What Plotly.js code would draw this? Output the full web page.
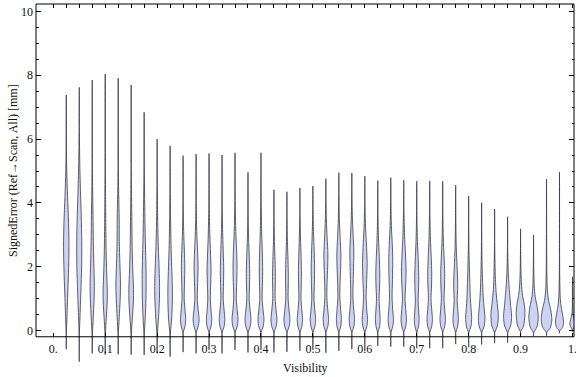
<!DOCTYPE html>
<html><head><meta charset="utf-8">
<script src="https://cdn.plot.ly/plotly-3.0.1.min.js"></script>
<style>html,body{margin:0;padding:0;background:#fff}</style>
</head><body><div id="chart" style="width:576px;height:377px"></div>
<script>
// ---- data ----
const visibility = [0.025,0.05,0.075,0.1,0.125,0.15,0.175,0.2,0.225,0.25,0.275,0.3,0.325,0.35,0.375,0.4,0.425,0.45,0.475,0.5,0.525,0.55,0.575,0.6,0.625,0.65,0.675,0.7,0.725,0.75,0.775,0.8,0.825,0.85,0.875,0.9,0.925,0.95,0.975,1.0];
const errMin = [-0.58,-0.97,-0.71,-0.75,-0.74,-0.75,-0.76,-0.71,-0.81,-0.67,-0.71,-0.60,-0.71,-0.60,-0.68,-0.60,-0.68,-0.66,-0.63,-0.60,-0.69,-0.63,-0.58,-0.63,-0.48,-0.50,-0.50,-0.55,-0.55,-0.55,-0.42,-0.52,-0.43,-0.39,-0.38,-0.10,-0.17,-0.16,-0.08,-0.03];
const errMax = [7.38,7.62,7.85,8.04,7.91,7.69,6.84,6.00,5.79,5.48,5.53,5.55,5.50,5.57,4.96,5.57,4.41,4.35,4.47,4.53,4.76,4.95,4.94,4.84,4.70,4.79,4.71,4.68,4.69,4.68,4.56,4.22,4.01,3.81,3.57,3.19,3.00,4.75,4.97,1.69];
// density profile of each violin: error levels and relative density at them
const profileLevels = [
 [-0.1,0.3,1.0,1.8,2.6,3.4,4.2,5.0,5.8],
 [-0.1,0.4,1.2,2.0,2.8,3.6,4.4,5.3,6.2],
 [-0.1,0.4,1.0,1.5,2.1,2.8,3.6,4.4,5.5],
 [-0.1,0.4,0.9,1.3,1.8,2.5,3.3,4.2,5.3],
 [-0.1,0.4,1.0,1.5,2.1,2.8,3.5,4.3,5.3],
 [-0.1,0.4,0.9,1.3,1.9,2.6,3.4,4.2,5.2],
 [-0.1,0.4,1.0,1.6,2.2,2.9,3.7,4.5,5.3],
 [-0.1,0.4,1.0,1.5,2.1,2.8,3.6,4.5],
 [-0.1,0.4,0.9,1.4,2.0,2.7,3.5,4.4],
 [-0.05,0.12,0.35,0.62,1.0,1.5,2.0,2.5,3.1,3.8],
 [-0.05,0.12,0.35,0.62,1.0,1.5,2.0,2.5,3.1,3.9],
 [-0.05,0.12,0.35,0.62,1.0,1.5,1.9,2.4,3.0,3.9],
 [-0.05,0.12,0.35,0.62,1.0,1.5,1.9,2.4,3.0,3.8],
 [-0.05,0.12,0.35,0.62,1.0,1.5,2.0,2.5,3.1,4.0],
 [-0.05,0.12,0.35,0.62,1.0,1.4,1.8,2.3,2.9,3.6],
 [-0.05,0.12,0.35,0.62,1.0,1.5,1.9,2.4,3.1,4.0],
 [-0.05,0.12,0.35,0.62,1.0,1.4,1.7,2.2,2.8,3.5],
 [-0.05,0.12,0.35,0.62,1.0,1.4,1.7,2.2,2.8,3.5],
 [-0.05,0.12,0.35,0.62,1.0,1.4,1.8,2.3,2.9,3.6],
 [-0.05,0.12,0.35,0.62,1.0,1.5,2.0,2.5,3.1,3.8],
 [-0.05,0.12,0.35,0.62,1.05,1.5,2.0,2.4,2.9,3.5,4.1],
 [-0.05,0.12,0.35,0.62,1.05,1.5,2.0,2.4,2.9,3.5,4.2],
 [-0.05,0.12,0.35,0.62,1.05,1.6,2.1,2.5,3.0,3.6,4.2],
 [-0.05,0.12,0.35,0.62,1.05,1.6,2.1,2.6,3.2,3.9],
 [-0.05,0.12,0.35,0.62,1.0,1.4,1.8,2.3,2.9,3.7],
 [-0.05,0.12,0.35,0.62,1.05,1.6,2.2,2.7,3.3,4.0],
 [-0.05,0.12,0.35,0.62,1.0,1.5,1.9,2.4,3.0,3.8],
 [-0.05,0.12,0.35,0.62,0.95,1.3,1.7,2.2,2.8,3.6],
 [-0.05,0.12,0.35,0.62,1.0,1.4,1.8,2.3,2.9,3.7],
 [-0.05,0.12,0.35,0.62,1.0,1.4,1.8,2.3,2.9,3.7],
 [-0.05,0.12,0.35,0.62,0.95,1.25,1.55,2.0,2.6,3.4],
 [-0.05,0.12,0.42,0.7,1.0,1.4,1.9,2.5,3.2],
 [-0.05,0.12,0.38,0.7,1.0,1.4,1.9,2.5,3.1],
 [-0.05,0.15,0.5,0.85,1.2,1.6,2.1,2.8],
 [-0.05,0.15,0.45,0.8,1.1,1.5,2.0,2.6],
 [-0.02,0.15,0.5,0.8,1.1,1.5,2.0,2.5],
 [-0.05,0.12,0.42,0.75,1.05,1.4,1.9,2.4],
 [-0.05,0.1,0.35,0.65,0.95,1.3,1.8,2.6,3.5],
 [0.0,0.1,0.28,0.55,0.85,1.2,1.8,2.6],
 [0.05,0.12,0.22,0.38,0.55,0.8]
];
const profileDensity = [
 [0.15,0.6,1.3,2.2,2.7,2.3,1.3,0.5,0.15],
 [0.15,0.7,1.6,2.4,2.5,2.0,1.2,0.5,0.15],
 [0.2,1.0,1.9,2.1,1.6,1.1,0.8,0.4,0.1],
 [0.2,1.1,2.0,2.1,1.5,0.9,0.6,0.35,0.1],
 [0.2,1.0,2.0,2.3,1.7,1.1,1.0,0.5,0.1],
 [0.2,1.2,2.2,2.3,1.6,1.0,0.7,0.4,0.1],
 [0.2,1.1,1.8,2.0,1.7,1.1,0.7,0.35,0.1],
 [0.25,1.4,2.3,2.4,1.8,1.0,0.5,0.2],
 [0.3,1.6,2.2,2.2,1.6,0.9,0.5,0.2],
 [0.2,1.8,2.6,2.0,1.1,1.4,1.7,1.3,0.6,0.2],
 [0.2,2.0,3.0,2.2,1.2,1.6,2.0,1.5,0.7,0.2],
 [0.2,1.9,2.7,2.0,1.3,1.7,2.0,1.5,0.8,0.25],
 [0.2,2.0,2.8,2.1,1.2,1.5,1.7,1.3,0.7,0.2],
 [0.2,2.1,3.0,2.2,1.3,1.7,2.0,1.6,0.8,0.25],
 [0.2,2.1,3.0,2.2,1.2,1.5,1.7,1.3,0.6,0.2],
 [0.2,2.1,3.0,2.2,1.2,1.5,1.7,1.4,0.7,0.25],
 [0.2,2.1,3.0,2.2,1.2,1.3,1.4,1.1,0.5,0.15],
 [0.2,2.1,3.0,2.2,1.2,1.3,1.4,1.1,0.5,0.15],
 [0.2,1.9,2.7,2.0,1.1,1.3,1.5,1.2,0.6,0.15],
 [0.2,1.9,2.7,2.0,1.1,1.5,1.7,1.3,0.6,0.2],
 [0.2,1.9,2.7,2.0,1.0,1.2,1.8,2.0,1.3,0.5,0.15],
 [0.2,1.8,2.5,1.9,1.0,1.2,1.8,2.0,1.3,0.5,0.15],
 [0.2,1.9,2.7,2.0,1.1,1.4,1.8,2.0,1.3,0.5,0.15],
 [0.2,1.9,2.7,2.0,1.3,1.9,2.3,1.8,0.8,0.2],
 [0.2,1.7,2.4,1.9,1.3,1.8,2.0,1.5,0.7,0.2],
 [0.2,1.9,2.7,2.0,1.3,1.7,2.0,1.5,0.6,0.2],
 [0.2,1.9,2.7,2.1,1.3,2.0,2.3,1.7,0.8,0.2],
 [0.2,1.7,2.4,1.9,1.4,1.8,2.0,1.5,0.7,0.2],
 [0.2,1.9,2.7,2.1,1.3,1.8,2.0,1.5,0.7,0.2],
 [0.2,1.9,2.7,2.1,1.3,1.8,2.0,1.4,0.6,0.2],
 [0.2,1.9,2.7,2.2,1.5,1.9,2.0,1.4,0.6,0.2],
 [0.2,2.2,3.0,2.4,1.7,1.3,0.8,0.35,0.1],
 [0.2,2.4,3.3,2.5,1.7,1.1,0.6,0.25,0.1],
 [0.25,2.8,3.7,2.6,1.5,0.8,0.4,0.1],
 [0.25,3.0,4.0,3.0,2.2,1.2,0.5,0.15],
 [0.3,3.0,4.3,3.8,2.0,0.8,0.3,0.1],
 [0.3,3.4,4.7,3.6,1.7,0.7,0.25,0.08],
 [0.3,3.8,5.3,4.2,2.0,0.8,0.35,0.15,0.08],
 [0.3,3.0,4.0,2.8,1.2,0.5,0.2,0.08],
 [0.4,2.0,2.7,1.6,0.5,0.15]
];
const xTickVals = [0,0.1,0.2,0.3,0.4,0.5,0.6,0.7,0.8,0.9,1.0];
const xTickText = ['0.','0.1','0.2','0.3','0.4','0.5','0.6','0.7','0.8','0.9','1.'];
const yTickVals = [0,2,4,6,8,10];
const yMinorVals = [0.5,1,1.5,2.5,3,3.5,4.5,5,5.5,6.5,7,7.5,8.5,9,9.5];
const xTitle = 'Visibility';
const yTitle = 'SignedError (Ref\u2192Scan, All) [mm]';

// ---- drawing ----
const DENS_TO_X = 0.00193;   // relative density -> half-width in x units
const FILL = 'rgb(204,211,243)';
const EDGE = 'rgba(55,55,65,0.78)';
const XR = [-0.0333, 1.0029];
const YR = [-1.105, 10.229];
const FRAME_BOTTOM = -0.19;
const framePos = (FRAME_BOTTOM - YR[0]) / (YR[1] - YR[0]);

const traces = visibility.map((v, i) => {
  const lv = [errMin[i], ...profileLevels[i], errMax[i]];
  const dn = [0, ...profileDensity[i], 0];
  const xs = [], ys = [];
  for (let k = 0; k < lv.length; k++) { xs.push(v + dn[k] * DENS_TO_X); ys.push(lv[k]); }
  for (let k = lv.length - 2; k >= 0; k--) { xs.push(v - dn[k] * DENS_TO_X); ys.push(lv[k]); }
  return {
    type: 'scatter', mode: 'lines', x: xs, y: ys, fill: 'toself', fillcolor: FILL,
    line: {color: EDGE, width: 1, shape: 'spline', smoothing: 0.8},
    hoverinfo: 'skip', showlegend: false
  };
});
traces.push({type:'scatter', mode:'markers', x:[0.5], y:[5], xaxis:'x2', yaxis:'y',
  marker:{opacity:0}, hoverinfo:'skip', showlegend:false});

const serif = '"Liberation Serif", "Times New Roman", "DejaVu Serif", serif';
const layout = {
  width: 576, height: 377,
  margin: {l: 36, r: 2, t: 4, b: 11, pad: 0},
  paper_bgcolor: '#ffffff', plot_bgcolor: 'rgba(0,0,0,0)',
  showlegend: false,
  font: {family: serif, size: 12, color: '#111'},
  xaxis: {range: XR, anchor: 'free', position: framePos, showline: false, showgrid: false,
    zeroline: false, ticks: 'inside', ticklen: 4, tickwidth: 1, tickcolor: '#000',
    ticklabelstandoff: 3, ticklabeloverflow: 'allow',
    tickmode: 'array', tickvals: xTickVals, ticktext: xTickText, tickfont: {family: serif, size: 12, color: '#111'}},
  xaxis2: {range: XR, overlaying: 'x', side: 'top', anchor: 'y', showline: false, showgrid: false,
    zeroline: false, ticks: 'inside', ticklen: 4, tickwidth: 1, tickcolor: '#000',
    tickmode: 'array', tickvals: [0, ...visibility], showticklabels: false},
  yaxis: {range: YR, showline: false, showgrid: false, zeroline: false, ticks: 'inside', ticklen: 5,
    tickwidth: 1, tickcolor: '#000', mirror: 'ticks', tickmode: 'array', tickvals: yTickVals,
    ticklabelstandoff: 2,
    ticktext: yTickVals.map(String), tickfont: {family: serif, size: 12, color: '#111'},
    minor: {tickmode: 'array', tickvals: yMinorVals, ticks: 'inside', ticklen: 2.5, tickwidth: 1, tickcolor: '#000'}},
  shapes: [{type: 'rect', xref: 'paper', yref: 'paper', x0: 0, x1: 1, y0: framePos, y1: 1,
    line: {color: '#000', width: 1}, fillcolor: 'rgba(0,0,0,0)', layer: 'above'}],
  annotations: [
    {text: xTitle, xref: 'paper', yref: 'paper', x: 0.5, y: -0.0055, xanchor: 'center', yanchor: 'middle',
     showarrow: false, font: {family: serif, size: 12, color: '#111'}},
    {text: yTitle, xref: 'paper', yref: 'paper', x: -0.0428, y: (366 - 170) / 362, xanchor: 'center', yanchor: 'middle',
     textangle: -90, showarrow: false, font: {family: serif, size: 12, color: '#111'}}
  ]
};
Plotly.newPlot('chart', traces, layout, {staticPlot: true, displayModeBar: false});
</script>
</body></html>
